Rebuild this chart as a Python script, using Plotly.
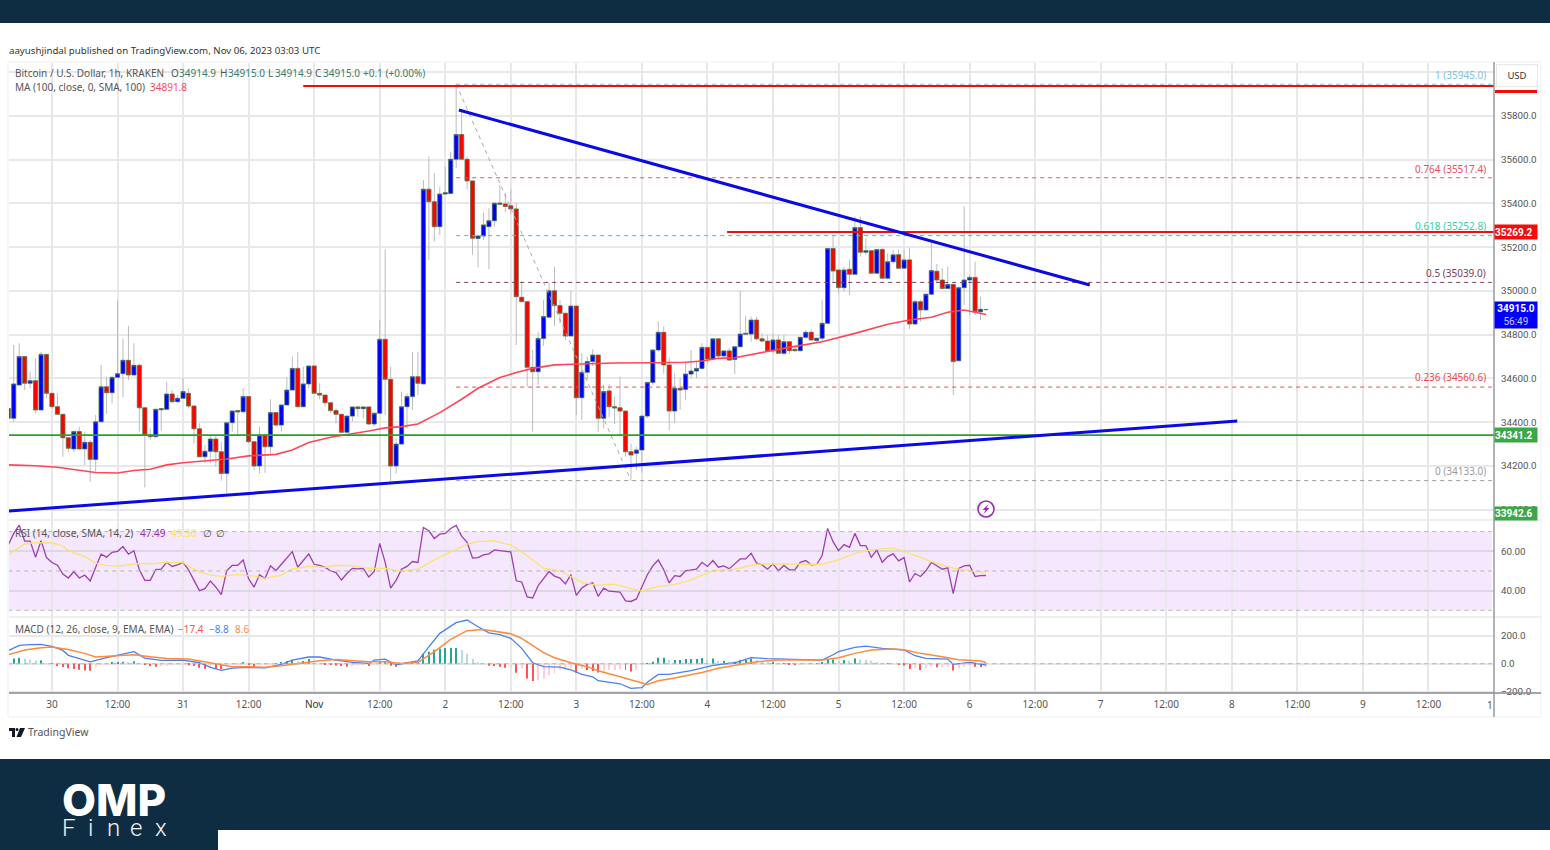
import pandas as pd
import plotly.graph_objects as go

# hourly bars, first one is Oct 29 16:00
start = pd.Timestamp("2023-10-29 16:00")
day0 = pd.Timestamp("2023-10-30 00:00")

opens = [34463,34418,34570,34700,34578,34590,34456,34710,34532,34471,34436,34329,34278,34357,34278,34308,34230,34402,34562,34535,
         34605,34622,34683,34616,34660,34466,34342,34334,34457,34459,34529,34494,34509,34532,34474,34370,34242,34267,34323,34265,
         34166,34398,34453,34448,34517,34311,34200,34342,34288,34444,34387,34479,34547,34646,34471,34575,34657,34532,34524,34489,
         34453,34436,34354,34428,34470,34462,34470,34392,34441,34779,34596,34200,34300,34471,34517,34608,34575,35465,35408,35294,
         35443,35446,35602,35715,35602,35503,35240,35251,35294,35321,35402,35398,35389,35375,34971,34951,34651,34631,34783,34880,
         35001,34933,34898,34794,34931,34512,34628,34677,34707,34418,34543,34471,34466,34451,34265,34258,34273,34428,34582,34730,
         34811,34662,34451,34555,34550,34620,34634,34646,34742,34689,34781,34703,34726,34687,34745,34802,34803,34867,34781,34771,
         34726,34776,34715,34768,34733,34727,34788,34811,34773,34784,34852,35194,35096,35015,35099,35076,35290,35177,35184,35081,
         35189,35058,35134,35166,35104,35142,34849,34951,34913,34985,35090,35050,35011,35030,34681,35015,35050,35062,34905,34914.9]
highs = [34463,34753,34761,34700,34631,34692,34722,34710,34532,34532,34436,34329,34357,34380,34357,34319,34433,34662,34608,34608,
         34956,34783,34841,34761,34669,34466,34372,34459,34463,34585,34547,34524,34601,34555,34474,34395,34296,34342,34338,34311,
         34398,34456,34456,34555,34517,34311,34380,34349,34505,34444,34479,34604,34700,34722,34654,34657,34657,34578,34524,34489,
         34463,34436,34428,34470,34471,34471,34470,34441,34867,35190,34654,34326,34540,34532,34722,34722,35507,35614,35538,35477,
         35568,35637,35945,35827,35614,35503,35259,35358,35378,35401,35485,35446,35465,35401,35043,34951,34730,34814,34959,35035,
         35111,34959,34898,35001,34931,34715,34700,34733,34707,34570,34573,34517,34608,34451,34303,34288,34428,34582,34730,34860,
         34837,34695,34623,34601,34677,34730,34677,34761,34742,34781,34781,34726,34740,34745,35000,34886,34883,34883,34806,34799,
         34806,34799,34799,34768,34753,34791,34822,34822,34784,34959,35194,35256,35096,35111,35142,35340,35340,35241,35184,35189,
         35197,35172,35187,35190,35187,35195,34959,34959,34985,35226,35123,35104,35111,35035,35020,35386,35073,35134,34974,34915]
lows = [34418,34402,34570,34547,34555,34441,34456,34509,34463,34433,34242,34265,34265,34273,34204,34128,34174,34402,34438,34486,
        34605,34514,34593,34616,34357,34102,34319,34326,34361,34459,34486,34486,34509,34463,34303,34242,34212,34212,34197,34133,
        34075,34357,34342,34441,34303,34182,34166,34169,34258,34380,34357,34479,34547,34471,34471,34555,34532,34505,34471,34441,
        34395,34349,34354,34402,34425,34418,34387,34380,34441,34433,34128,34166,34300,34372,34456,34524,34575,35142,35226,35256,
        35443,35446,35561,35602,35465,35165,35108,35233,35099,35294,35393,35361,35352,34753,34951,34563,34357,34570,34749,34880,
        34840,34852,34776,34794,34433,34410,34593,34657,34357,34372,34422,34392,34334,34242,34139,34182,34169,34418,34570,34722,
        34622,34364,34395,34456,34501,34601,34601,34639,34669,34684,34692,34695,34680,34621,34745,34799,34768,34776,34764,34723,
        34715,34712,34707,34712,34722,34724,34783,34773,34761,34768,34852,35043,34989,34997,34982,35076,35157,35165,35081,35081,
        35056,35053,35126,35101,35101,34825,34844,34860,34913,34982,35035,35008,35008,34524,34678,34936,34890,34890,34867,34914.9]
closes = [34418,34575,34700,34578,34590,34456,34710,34532,34471,34436,34329,34281,34357,34278,34308,34230,34402,34562,34535,34605,
          34622,34683,34616,34660,34466,34342,34334,34459,34462,34529,34494,34509,34540,34474,34370,34242,34267,34323,34265,34166,
          34398,34451,34447,34517,34311,34200,34342,34288,34444,34387,34479,34547,34646,34471,34575,34657,34532,34524,34489,34453,
          34436,34354,34428,34470,34462,34470,34392,34441,34779,34596,34200,34300,34471,34517,34608,34578,35465,35408,35294,35443,
          35449,35602,35715,35602,35503,35241,35251,35302,35321,35401,35396,35386,35375,34974,34951,34651,34631,34783,34883,35001,
          34933,34898,34794,34931,34512,34628,34677,34707,34418,34540,34471,34465,34451,34265,34250,34273,34428,34582,34730,34811,
          34662,34451,34555,34547,34620,34634,34646,34742,34689,34781,34703,34726,34684,34745,34803,34806,34867,34781,34771,34726,
          34776,34715,34768,34727,34727,34788,34811,34776,34784,34852,35194,35091,35015,35096,35076,35290,35177,35184,35081,35189,
          35058,35134,35165,35104,35142,34849,34951,34913,34985,35093,35050,35011,35030,34677,35015,35050,35062,34905,34916,34915]

# moving average, read at these hours after Oct 30 00:00
ma_hours = [-8,-3,1,4,8,12,15,18,21,24,28,32,36,41,44,47,51,55,58,61,64,67,71,75,78,82,85,88,92,97,103,110,116,119,122,125,129,135,141,147,153,157,161,164,167,171]
ma_vals = [34205,34201,34194,34185,34170,34168,34179,34185,34205,34215,34223,34232,34246,34253,34273,34307,34331,34346,34360,34374,34380,34392,34444,34505,34555,34604,34627,34646,34662,34666,34671,34672,34674,34680,34692,34695,34715,34742,34768,34806,34848,34867,34880,34903,34913,34892]

rsi_vals = [63.2,69.1,73.3,65.2,65.2,57.0,65.4,56.8,54.3,52.9,48.4,46.4,49.7,46.4,47.9,44.9,51.9,58.5,57.0,59.5,
            60.0,62.4,58.5,60.3,50.6,45.2,45.2,50.7,50.9,54.4,52.3,53.1,54.4,50.6,45.2,40.0,41.0,44.9,41.8,38.0,
            50.2,52.8,52.8,55.6,46.0,41.8,48.1,46.2,52.6,50.2,53.4,56.6,59.8,51.9,55.6,58.7,53.4,52.8,51.8,50.1,
            49.2,45.4,48.7,51.3,51.1,51.3,46.9,49.7,64.0,54.4,41.3,45.2,50.9,52.3,54.8,54.3,72.1,70.4,66.5,68.7,
            69.1,71.6,73.1,67.7,64.5,56.5,56.8,58.2,58.7,60.7,60.3,60.0,59.7,
            45.0,44.4,36.8,36.3,42.5,46.0,49.7,47.4,46.4,43.4,48.1,37.6,41.3,43.2,44.0,37.1,41.3,39.7,39.5,39.3,
            34.8,34.5,35.8,41.7,48.1,52.6,55.6,50.6,43.9,47.6,47.2,50.1,50.4,50.9,54.4,52.3,55.3,51.9,52.6,51.1,
            53.6,56.1,56.1,59.0,54.0,53.1,50.9,53.6,50.1,52.8,50.6,50.6,54.4,55.3,53.1,53.3,57.8,71.6,64.9,60.3,
            63.4,62.0,69.1,62.9,62.9,57.0,60.7,54.4,57.3,58.7,55.1,56.8,44.4,48.7,47.2,50.1,54.4,52.6,50.9,51.6,
            38.5,51.3,52.6,52.9,47.2,47.6,47.7]
rsi_ma_hours = [-8,-6,-5,-3,0,2,3,6,8,10,12,14,16,18,21,24,25,27,29,31,34,37,39,42,44,47,50,52,55,58,61,64,67,70,73,76,78,81,82,84,86,88,90,93,95,97,100,103,105,108,109,111,114,117,121,125,129,133,137,141,144,147,150,154,157,161,165,169,171]
rsi_ma_vals = [58.2,62.0,63.7,64.4,64.2,62.7,60.3,57.3,54.0,52.8,52.4,53.1,53.8,53.6,54.4,54.3,52.3,49.7,47.9,47.2,48.1,47.4,46.2,47.9,50.9,52.3,51.8,52.9,52.6,51.3,51.3,49.9,50.9,55.6,59.8,63.7,64.9,65.4,64.5,63.2,59.8,55.6,51.4,50.1,47.2,44.2,42.7,43.3,41.8,39.8,40.5,42.2,43.0,45.5,50.2,50.9,53.4,53.6,53.4,53.4,55.6,59.0,60.7,61.7,59.0,54.8,51.4,49.7,49.4]

macd_hours = [-8,-6,-4,-2,0,2,3,5,7,10,13,15,17,20,24,27,29,31,33,36,39,42,44,47,49,52,55,58,59,61,63,67,69,71,74,76,78,80,82,84,86,88,90,93,95,97,99,100,104,106,108,109,111,113,117,121,125,128,131,137,141,143,144,147,149,152,156,158,160,164,165,168,170,171]
macd_vals = [93,131,136,138,124,95,60,38,14,43,71,86,40,24,26,7,-26,-48,-31,-26,-29,-5,26,48,48,26,10,2,26,33,-7,21,121,217,293,312,264,221,207,181,110,7,-21,-24,-43,-76,-93,-121,-143,-176,-171,-133,-76,-76,-50,-12,7,43,36,29,26,64,86,117,126,110,98,57,38,33,-5,10,-5,-9]
signal_hours = [-8,-5,-2,0,3,6,8,11,15,18,21,25,27,30,33,36,39,42,45,49,52,55,58,61,64,67,70,73,76,79,82,84,86,88,90,92,95,98,100,104,108,109,111,114,119,122,126,129,133,137,141,144,147,150,154,156,159,163,166,170,171]
signal_vals = [64,98,114,119,102,74,48,55,64,50,38,33,19,-5,-21,-21,-26,-14,2,21,31,24,14,14,2,10,86,174,236,245,229,214,181,129,79,43,7,-21,-50,-93,-136,-148,-121,-102,-62,-33,-5,14,26,24,26,43,74,98,105,100,74,50,29,19,9]
hist_vals = [0,38,43,36,29,21,24,5,-1,-17,-24,-33,-38,-43,-48,-50,-21,-7,-2,7,
             7,14,7,17,2,-7,-17,-21,-17,-14,-10,-7,-7,-10,-17,-29,-36,-29,-36,-38,
             -12,-5,-2,10,-2,-21,-7,-5,-2,2,10,19,29,17,19,33,5,2,-2,-5,
             -12,-17,-21,-14,-12,-10,-17,-10,7,19,-14,-21,-7,-2,5,14,71,86,100,107,
             112,112,112,98,71,33,10,2,-14,-17,-21,-29,-29,
             -64,-33,-105,-124,-117,-105,-81,-69,-45,-40,-33,-64,-40,-45,-52,-62,-50,-45,-45,-38,
             -45,-55,-45,-10,2,14,43,43,26,26,26,33,33,33,40,26,38,21,21,14,
             14,26,26,38,26,14,10,10,1,2,-7,-10,-5,-1,1,1,7,31,31,21,
             26,21,38,31,26,21,12,2,-1,-1,-2,-12,-38,-33,-45,-33,-17,-26,-26,-21,
             -48,-33,-21,-10,-21,-24,-21]

fib_levels = [35945.0, 35517.4, 35252.8, 35039.0, 34560.6, 34133.0]
fib_names = ["1", "0.764", "0.618", "0.5", "0.236", "0"]
fib_colors = ["#7cc4e4", "#e8505f", "#35cf9f", "#7d3c5c", "#ee4a4a", "#9a9a9a"]
price_ticks = [34000,34200,34400,34600,34800,35000,35200,35400,35600,35800,36000]
price_labels = ["34000.0","34200.0","34400.0","34600.0","34800.0","35000.0","35200.0","35400.0","35600.0","35800.0",""]
rsi_ticks = [40, 60]
macd_ticks = [-200, 0, 200]
x_ticks = ["2023-10-30 00:00","2023-10-30 12:00","2023-10-31 00:00","2023-10-31 12:00","2023-11-01 00:00","2023-11-01 12:00",
           "2023-11-02 00:00","2023-11-02 12:00","2023-11-03 00:00","2023-11-03 12:00","2023-11-04 00:00","2023-11-04 12:00",
           "2023-11-05 00:00","2023-11-05 12:00","2023-11-06 00:00","2023-11-06 12:00","2023-11-07 00:00","2023-11-07 12:00",
           "2023-11-08 00:00","2023-11-08 12:00","2023-11-09 00:00","2023-11-09 12:00","2023-11-10 00:00"]
x_labels = ["30","12:00","31","12:00","<span style='color:#333333'>Nov</span>","12:00","2","12:00","3","12:00","4","12:00","5","12:00","6","12:00","7","12:00","8","12:00","9","12:00",""]

W, H = 1550, 850
FONT = "Noto Sans"
NUM_FONT = "Roboto"
NAVY = "#0f2d42"
GRID = "#e8e8ea"


def hours(hs):
    return [day0 + pd.Timedelta(hours=h) for h in hs]


def px(x):
    return x / W


def py(y):
    return 1 - y / H


times = pd.date_range(start, periods=len(opens), freq="h")
for arr in (highs, lows, closes, rsi_vals, hist_vals):
    if len(arr) != len(opens):
        raise ValueError(f"length {len(arr)} vs {len(opens)}")
if len(ma_hours) != len(ma_vals) or len(rsi_ma_hours) != len(rsi_ma_vals) or len(macd_hours) != len(macd_vals) or len(signal_hours) != len(signal_vals):
    raise ValueError("hours/values mismatch")

fig = go.Figure()

# wicks first, bodies over them so the outline can differ from the wick colour
fig.add_trace(go.Candlestick(x=times, open=opens, high=highs, low=lows, close=closes,
                             increasing=dict(line=dict(color="#bcbcc0", width=1), fillcolor="#bcbcc0"),
                             decreasing=dict(line=dict(color="#bcbcc0", width=1), fillcolor="#bcbcc0"),
                             showlegend=False, hoverinfo="skip"))
fig.add_trace(go.Candlestick(x=times, open=opens, close=closes,
                             high=[max(o, c) for o, c in zip(opens, closes)],
                             low=[min(o, c) for o, c in zip(opens, closes)],
                             increasing=dict(line=dict(color="#4d7f4a", width=0.6), fillcolor="#0000ff"),
                             decreasing=dict(line=dict(color="#4d7f4a", width=0.6), fillcolor="#ff0000"),
                             showlegend=False, hoverinfo="skip"))
fig.add_trace(go.Scatter(x=hours(ma_hours), y=ma_vals, mode="lines", line=dict(color="#ff4658", width=1.6), showlegend=False))

# fib levels and the fib diagonal
for level, color in zip(fib_levels, fib_colors):
    fig.add_trace(go.Scatter(x=hours([74, 263.6]), y=[level, level], mode="lines",
                             line=dict(color=color, width=1, dash="4px,4px"), showlegend=False))
fig.add_trace(go.Scatter(x=hours([74, 106]), y=[35945, 34133], mode="lines",
                         line=dict(color="#a8a8a8", width=1, dash="4px,4px"), showlegend=False))

# hand drawn levels
fig.add_trace(go.Scatter(x=hours([46, 264]), y=[35937, 35937], mode="lines", line=dict(color="#f20d0d", width=2), showlegend=False))
fig.add_trace(go.Scatter(x=hours([123.6, 264]), y=[35269.2, 35269.2], mode="lines", line=dict(color="#f20d0d", width=2), showlegend=False))
fig.add_trace(go.Scatter(x=[times[0] + pd.Timedelta(minutes=8), hours([264])[0]], y=[34341.2, 34341.2], mode="lines", line=dict(color="#2ca02c", width=1.6), showlegend=False))
fig.add_trace(go.Scatter(x=hours([74.5, 190]), y=[35827, 35027], mode="lines", line=dict(color="#0a0ae6", width=3), showlegend=False))
fig.add_trace(go.Scatter(x=hours([-7.87, 217]), y=[33994, 34406], mode="lines", line=dict(color="#0a0ae6", width=3), showlegend=False))

# RSI pane
fig.add_trace(go.Scatter(x=times, y=rsi_vals, mode="lines", yaxis="y2", line=dict(color="#9c3fb0", width=1.3), showlegend=False))
fig.add_trace(go.Scatter(x=hours(rsi_ma_hours), y=rsi_ma_vals, mode="lines", yaxis="y2", line=dict(color="#fbe36a", width=1.3), showlegend=False))

# MACD pane
hist_colors = []
prev = 0
for v in hist_vals:
    if v >= 0:
        hist_colors.append("#26a69a" if v >= prev else "#b2dfdb")
    else:
        hist_colors.append("#ff5252" if v < prev else "#ffcdd2")
    prev = v
fig.add_trace(go.Bar(x=times, y=hist_vals, yaxis="y3", width=3600000 * 0.18, marker=dict(color=hist_colors, line=dict(width=0)), showlegend=False))
fig.add_trace(go.Scatter(x=hours(macd_hours), y=macd_vals, mode="lines", yaxis="y3", line=dict(color="#4a80f0", width=1.3), showlegend=False))
fig.add_trace(go.Scatter(x=hours(signal_hours), y=signal_vals, mode="lines", yaxis="y3", line=dict(color="#ff8a3c", width=1.5), showlegend=False))

shapes = [
    # header and footer bands
    dict(type="rect", xref="paper", yref="paper", x0=0, x1=1, y0=py(23), y1=1, fillcolor=NAVY, line_width=0, layer="below"),
    dict(type="rect", xref="paper", yref="paper", x0=0, x1=1, y0=0, y1=py(759), fillcolor=NAVY, line_width=0, layer="below"),
    dict(type="rect", xref="paper", yref="paper", x0=px(218), x1=1, y0=0, y1=py(830), fillcolor="white", line_width=0, layer="below"),
    # outer frame and pane separators
    dict(type="rect", xref="paper", yref="paper", x0=px(8), x1=px(1541), y0=py(717), y1=py(62), line=dict(color="#eeeff3", width=1), layer="below"),
    dict(type="line", xref="paper", yref="paper", x0=px(9), x1=px(1541), y0=py(520), y1=py(520), line=dict(color="#eaeaee", width=1.5)),
    dict(type="line", xref="paper", yref="paper", x0=px(9), x1=px(1541), y0=py(617), y1=py(617), line=dict(color="#eaeaee", width=1.5)),
    dict(type="line", xref="paper", yref="paper", x0=px(9), x1=px(1541), y0=py(693), y1=py(693), line=dict(color="#8a8a8f", width=1.3)),
    dict(type="line", xref="paper", yref="paper", x0=px(1494), x1=px(1494), y0=py(717), y1=py(62), line=dict(color="#8a8a8f", width=1.3)),
    # RSI band
    dict(type="rect", xref="x", yref="y2", x0=times[0], x1=hours([263.6])[0], y0=30, y1=70, fillcolor="rgba(170,60,240,0.12)", line_width=0, layer="below"),
    # clipped alert tag at the top of the scale
    dict(type="rect", xref="paper", yref="paper", x0=px(1495), x1=px(1537), y0=py(93), y1=py(90), fillcolor="#f20d0d", line_width=0),
    # publish badge
    dict(type="circle", xref="paper", yref="paper", x0=px(978), x1=px(994), y0=py(517), y1=py(501), line=dict(color="#9c27b0", width=1.6), fillcolor="white"),
    dict(type="path", xref="paper", yref="paper", fillcolor="#9c27b0", line_width=0,
         path=f"M {px(988.5)} {py(504)} L {px(982.5)} {py(510)} L {px(985.5)} {py(510)} L {px(983.5)} {py(514)} L {px(989.5)} {py(508)} L {px(986.5)} {py(508)} Z"),
    # TradingView mark
    dict(type="path", xref="paper", yref="paper", fillcolor="#131722", line_width=0,
         path=f"M {px(9)} {py(728)} H {px(15)} V {py(737)} H {px(12)} V {py(731)} H {px(9)} Z"),
    dict(type="circle", xref="paper", yref="paper", fillcolor="#131722", line_width=0, x0=px(15.5), x1=px(18.5), y0=py(731), y1=py(728)),
    dict(type="path", xref="paper", yref="paper", fillcolor="#131722", line_width=0,
         path=f"M {px(20)} {py(728)} H {px(25)} L {px(21)} {py(737)} H {px(16.5)} Z"),
]
for v in [0, 50, 70, 30]:
    if v == 0:
        shapes.append(dict(type="line", xref="x", yref="y3", x0=times[0], x1=hours([263.6])[0], y0=0, y1=0, line=dict(color="#b5b5b8", width=1, dash="4px,4px")))
    else:
        shapes.append(dict(type="line", xref="x", yref="y2", x0=times[0], x1=hours([263.6])[0], y0=v, y1=v, line=dict(color="#b5b5b8", width=1, dash="4px,4px")))

annotations = []


def label(x, y, text, color="#555555", size=10, anchor="left", **kw):
    # annotations carry a small inner padding, take it off the left edge
    if anchor == "left":
        x -= 2
    annotations.append(dict(xref="paper", yref="paper", x=px(x), y=py(y), text=text, showarrow=False,
                            xanchor=anchor, yanchor="middle", align=kw.pop("align", "left"),
                            font=dict(family=kw.pop("family", FONT), size=size, color=color, weight=kw.pop("weight", None)), **kw))


label(9, 50, "aayushjindal published on TradingView.com, Nov 06, 2023 03:03 UTC", color="#333333", size=9.7)
label(15, 73, "Bitcoin / U.S. Dollar, 1h, KRAKEN")
label(171, 73, "O", color="#555555")
label(179, 73, "34914.9", color="#3f7d67")
label(220, 73, "H", color="#555555")
label(228, 73, "34915.0", color="#3f7d67")
label(268, 73, "L", color="#555555")
label(275, 73, "34914.9", color="#3f7d67")
label(315, 73, "C", color="#555555")
label(323, 73, "34915.0", color="#3f7d67")
label(363, 73, "+0.1 (+0.00%)", color="#3f7d67")
label(15, 87, "MA (100, close, 0, SMA, 100)")
label(150, 87, "34891.8", color="#ff4658")
label(15, 533, "RSI (14, close, SMA, 14, 2)")
label(140, 533, "47.49", color="#9c27b0")
label(171, 533, "49.30", color="#f8e45c")
label(203, 533, "∅", color="#555555")
label(216, 533, "∅", color="#555555")
label(15, 629, "MACD (12, 26, close, 9, EMA, EMA)")
label(178, 629, "−17.4", color="#ff5252")
label(209, 629, "−8.8", color="#4a80f0")
label(235, 629, "8.6", color="#ff8a3c")

# fib captions sit just over their lines
fib_text_y = [75, 169, 226, 273, 377, 471]
for name, level, color, y in zip(fib_names, fib_levels, fib_colors, fib_text_y):
    label(1488, y, f"{name} ({level:.1f})", color=color, anchor="right")

# price tags on the scale
label(1516, 232, "<b>35269.2</b>", color="white", size=10, family=NUM_FONT, anchor="center", bgcolor="#f20d0d", width=42, height=14, borderpad=0)
label(1516, 315, "<b>34915.0</b><br><span style='color:#c9c9ff'>56:49</span>", color="white", size=10, family=NUM_FONT, anchor="center", align="center",
      bgcolor="#0000ff", width=42, height=26, borderpad=0)
label(1516, 435, "<b>34341.2</b>", color="white", size=10, family=NUM_FONT, anchor="center", bgcolor="#3aa845", width=42, height=14, borderpad=0)
label(1516, 513, "<b>33942.6</b>", color="white", size=10, family=NUM_FONT, anchor="center", bgcolor="#3aa845", width=42, height=13, borderpad=0)
label(1517, 75, "USD", color="#333333", size=9.5, anchor="center", align="center", bgcolor="white", bordercolor="#e8e8ec",
      borderwidth=1, borderpad=0, width=40, height=21)
label(1495, 705, "1", color="#555555", anchor="right")

# footer
label(28, 732, "TradingView", color="#555555", size=10.5)
label(62, 800, "OMP", color="white", size=44, family="Inter", weight=800)
for letter, x in zip("Finex", [62, 88, 107, 130, 155]):
    label(x, 828, letter, color="#f2f4f6", size=24, family="Roboto", weight=300)

axis_font = dict(family=FONT, size=10, color="#555555")
num_font = dict(family=NUM_FONT, size=9.8, color="#555555")
fig.update_layout(
    width=W, height=H, autosize=False, margin=dict(l=0, r=0, t=0, b=0, autoexpand=False), paper_bgcolor="white", plot_bgcolor="white",
    shapes=shapes, annotations=annotations, showlegend=False, barmode="overlay", boxgap=0.25, boxgroupgap=0,
    xaxis=dict(domain=[px(9), px(1494)], range=[times[0] + pd.Timedelta(minutes=8), "2023-11-10 00:00"], anchor="y3", automargin=False,
               rangeslider=dict(visible=False), tickmode="array", tickvals=x_ticks, ticktext=x_labels, tickfont=axis_font,
               showgrid=True, gridcolor=GRID, gridwidth=1.5, zeroline=False, ticks="", ticklabelstandoff=4),
    yaxis=dict(domain=[py(520), py(63)], range=[33953, 36042], side="right", anchor="x", tickmode="array", tickvals=price_ticks, automargin=False,
               ticktext=price_labels, tickfont=num_font, showgrid=True, gridcolor=GRID, gridwidth=1.5, zeroline=False, ticklabelstandoff=6),
    yaxis2=dict(domain=[py(617), py(520)], range=[26.6, 75.9], side="right", anchor="x", tickmode="array", tickvals=rsi_ticks, automargin=False,
                tickformat=".2f", tickfont=num_font, showgrid=True, gridcolor="#ddd6e4", gridwidth=1.5, zeroline=False, ticklabelstandoff=6),
    yaxis3=dict(domain=[py(693), py(617)], range=[-209, 333.6], side="right", anchor="x", tickmode="array", tickvals=macd_ticks, automargin=False,
                tickformat=".1f", tickfont=num_font, showgrid=True, gridcolor=GRID, gridwidth=1.5, zeroline=False, ticklabelstandoff=6),
)

fig.write_html("out.html", config={"displayModeBar": False, "responsive": False},
               post_script="document.body.style.margin='0';document.body.style.overflow='hidden';")
